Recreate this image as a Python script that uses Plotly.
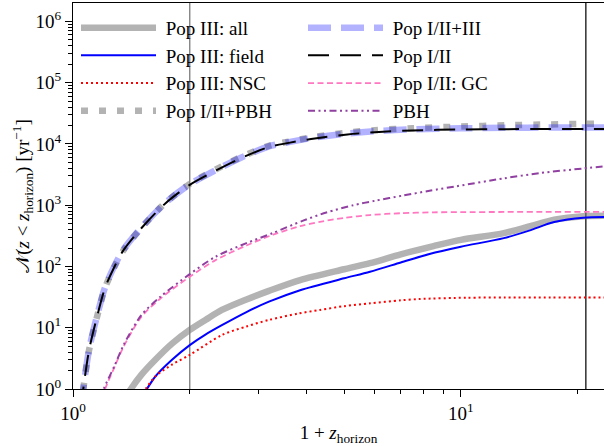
import plotly.graph_objects as go

# ---------------- data ----------------
popIII_all_x = [1.38, 1.41, 1.5, 1.63, 1.8, 2.0, 2.2, 2.42, 2.8, 3.2, 3.85, 5.0, 5.83, 7.0, 8.5, 10, 12.9, 15, 17.4, 20.7, 25]
popIII_all_y = [0.8, 1.0, 1.7, 3.0, 5.5, 9.2, 13.5, 19.5, 29, 40, 60, 90, 113, 158, 215, 272, 350, 450, 580, 660, 670]

popIII_field_x = [1.52, 1.55, 1.63, 1.8, 2.0, 2.2, 2.42, 2.8, 3.2, 3.85, 5.0, 5.83, 7.0, 8.3, 10, 12.9, 15, 17.4, 20.7, 25]
popIII_field_y = [0.85, 1.0, 1.6, 3.0, 5.2, 7.8, 11, 18, 26.6, 41, 64, 82, 116, 160, 210, 290, 385, 530, 625, 640]

popIII_nsc_x = [1.52, 1.54, 1.63, 1.8, 2.0, 2.42, 2.8, 3.2, 3.8, 4.33, 5.0, 5.83, 7.0, 7.84, 10.35, 13, 17, 21, 25]
popIII_nsc_y = [0.85, 1.0, 1.6, 2.5, 3.6, 7.6, 10.5, 13.4, 17, 19.5, 22.5, 25, 28, 29.4, 30.9, 31, 31, 31, 31]

pop12_pbh_x = [1.05, 1.063, 1.1, 1.15, 1.21, 1.28, 1.35, 1.5, 1.73, 2.0, 2.3, 2.7, 3.2, 3.6, 4.2, 5.1, 6.0, 7.5, 10, 13, 17, 21, 25]
pop12_pbh_y = [0.5, 1.0, 4.3, 14, 45, 100, 185, 425, 1090, 2225, 3640, 6050, 9300, 10900, 13000, 15300, 16800, 18050, 19200, 20100, 20800, 21300, 21700]

pop123_x = [1.05, 1.063, 1.1, 1.15, 1.21, 1.28, 1.35, 1.5, 1.73, 2.0, 2.3, 2.7, 3.2, 3.6, 4.2, 5.1, 6.0, 7.5, 10, 13, 17, 21, 25]
pop123_y = [0.5, 1.0, 4.4, 14.5, 46, 103, 190, 430, 1090, 2200, 3560, 5900, 9100, 10700, 12700, 14800, 16100, 17300, 18000, 18300, 18500, 18600, 18600]

pop12_x = [1.05, 1.063, 1.1, 1.15, 1.21, 1.28, 1.35, 1.5, 1.73, 2.0, 2.3, 2.7, 3.2, 3.6, 4.2, 5.1, 6.0, 7.5, 10, 13, 17, 21, 25]
pop12_y = [0.5, 1.0, 4.3, 14, 45, 100, 185, 420, 1070, 2150, 3500, 5800, 8900, 10400, 12300, 14300, 15500, 16600, 17200, 17400, 17500, 17500, 17500]

pop12_gc_x = [1.19, 1.21, 1.28, 1.35, 1.5, 1.68, 2.0, 2.33, 2.8, 3.28, 3.85, 4.33, 5.0, 5.82, 7.0, 8.5, 10, 13, 17, 21, 25]
pop12_gc_y = [0.7, 1.0, 2.3, 4.9, 15, 30, 68, 127, 220, 330, 455, 535, 620, 690, 740, 765, 770, 775, 775, 775, 775]

pbh_x = [1.18, 1.2, 1.28, 1.35, 1.5, 1.68, 2.0, 2.33, 2.8, 3.27, 3.92, 4.5, 5.28, 6.0, 7.1, 8.3, 9.75, 12.9, 16, 20.7, 25]
pbh_y = [0.7, 1.0, 2.4, 5.2, 16, 32, 75, 144, 240, 350, 560, 760, 1000, 1180, 1440, 1720, 2040, 2740, 3350, 3980, 4500]

vline_x = [2, 21]
vline_colors = ["#7a7a7a", "#111111"]

x_tickvals = [1, 10]
x_ticktext = ["10<sup>0</sup>", "10<sup>1</sup>"]
y_tickvals = [1, 10, 100, 1000, 10000, 100000, 1000000]
y_ticktext = ["10<sup>%d</sup>" % i for i in range(7)]

FONT = "Liberation Serif"

fig = go.Figure()

# reference vertical lines
for xv, c in zip(vline_x, vline_colors):
    fig.add_trace(go.Scatter(x=[xv, xv], y=[0.1, 1e7], mode="lines",
                             line=dict(color=c, width=1.3), showlegend=False,
                             hoverinfo="skip"))

def add(x, y, name, color, width, dash, legend):
    fig.add_trace(go.Scatter(x=x, y=y, mode="lines", name="\u00a0" + name,
                             line=dict(color=color, width=width, dash=dash,
                                       shape="spline", smoothing=0.8),
                             legend=legend))

add(popIII_all_x, popIII_all_y, "Pop III: all", "rgba(128,128,128,0.6)", 6.5, "solid", "legend")
add(popIII_field_x, popIII_field_y, "Pop III: field", "#0000ff", 2, "solid", "legend")
add(popIII_nsc_x, popIII_nsc_y, "Pop III: NSC", "#ff0000", 2, "2px,3px", "legend")
add(pop12_pbh_x, pop12_pbh_y, "Pop I/II+PBH", "rgba(128,128,128,0.6)", 6.5, "7px,11px", "legend")
add(pop123_x, pop123_y, "Pop I/II+III", "rgba(0,0,255,0.3)", 6.5, "23px,10px", "legend2")
add(pop12_x, pop12_y, "Pop I/II", "#000000", 2, "21px,11px", "legend2")
add(pop12_gc_x, pop12_gc_y, "Pop I/II: GC", "#ff77c0", 1.8, "6px,3.5px", "legend2")
add(pbh_x, pbh_y, "PBH", "#9040a0", 2, "7px,3.5px,2px,3.5px,2px,3.5px", "legend2")

legend_common = dict(bgcolor="rgba(0,0,0,0)", borderwidth=0, itemwidth=75,
                     font=dict(family=FONT, size=19, color="black"),
                     xanchor="left", yanchor="top", tracegroupgap=0)

plot_w = 604 - 73
fig.update_layout(
    width=604, height=446,
    margin=dict(l=73, r=0, t=3, b=57),
    paper_bgcolor="white", plot_bgcolor="white",
    font=dict(family=FONT, size=19, color="black"),
    legend=dict(x=3 / plot_w, y=0.985, **legend_common),
    legend2=dict(x=(303 - 73) / plot_w, y=0.985, **legend_common),
    xaxis=dict(type="log", range=[0, 1.369], showline=True, linecolor="black",
               linewidth=1, mirror=True, ticks="outside", ticklen=7, tickwidth=1,
               tickcolor="black", tickvals=x_tickvals, ticktext=x_ticktext,
               showgrid=False, zeroline=False,
               minor=dict(tickvals=[2, 3, 4, 5, 6, 7, 8, 9, 20], ticks="outside",
                          ticklen=4, tickwidth=1, tickcolor="black", showgrid=False),
               title=dict(text="1 + <i>z</i><sub>horizon</sub>", standoff=6,
                          font=dict(family=FONT, size=19))),
    yaxis=dict(type="log", range=[0, 6.3], showline=True, linecolor="black",
               linewidth=1, mirror=False, ticks="outside", ticklen=7, tickwidth=1,
               tickcolor="black", tickvals=y_tickvals, ticktext=y_ticktext,
               showgrid=False, zeroline=False,
               minor=dict(tickvals=[k * 10 ** n for n in range(6) for k in range(2, 10)],
                          ticks="outside", ticklen=4, tickwidth=1, tickcolor="black",
                          showgrid=False),
               title=dict(text="\U0001D4A9\u0307(<i>z</i> &lt; <i>z</i><sub>horizon</sub>) [yr<sup>\u22121</sup>]",
                          standoff=0, font=dict(family=FONT, size=19))),
)

fig.write_html("out.html")
